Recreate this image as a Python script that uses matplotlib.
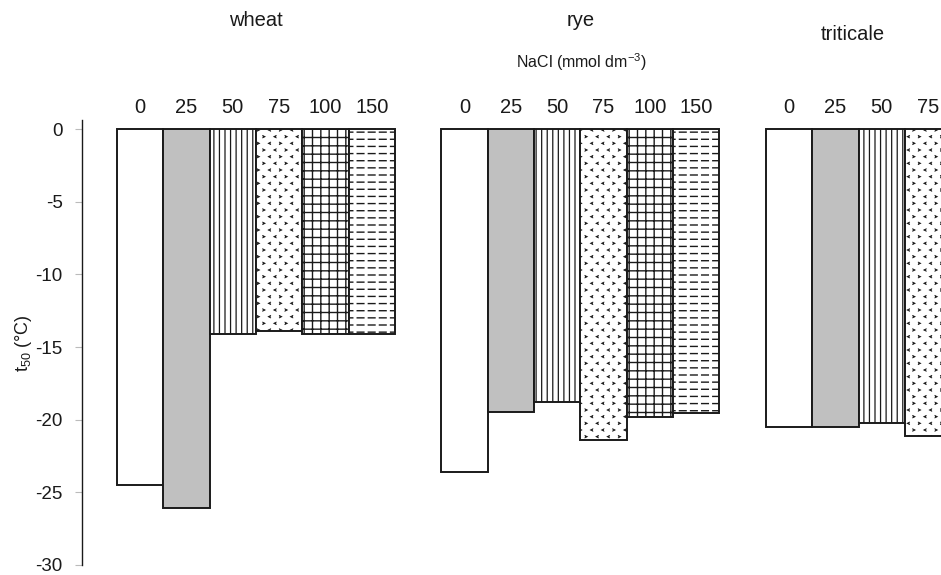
import matplotlib
matplotlib.use("Agg")
import warnings
import numpy as np
import matplotlib.pyplot as plt
from matplotlib import hatch as mhatch
from matplotlib.path import Path

warnings.filterwarnings('ignore')
plt.rcParams['font.family'] = ['Liberation Sans', 'DejaVu Sans']
plt.rcParams['axes.unicode_minus'] = False
plt.rcParams['hatch.linewidth'] = 0.9


# Custom hatch textures: dashed horizontal lines ('_') and small chevrons ('<')
class DashHatch(mhatch.HatchPatternBase):
    def __init__(self, hatch, density):
        n = hatch.count('_')
        self.rows = n * 14
        self.cols = n * 9
        self.num_vertices = self.rows * self.cols * 2

    def set_vertices_and_codes(self, vertices, codes):
        k = 0
        for r in range(self.rows):
            y = (r + 0.5) / self.rows
            for c in range(self.cols):
                x0 = (c + 0.15) / self.cols
                x1 = (c + 0.75) / self.cols
                vertices[k] = (x0, y)
                vertices[k + 1] = (x1, y)
                codes[k] = Path.MOVETO
                codes[k + 1] = Path.LINETO
                k += 2


class ChevronHatch(mhatch.HatchPatternBase):
    def __init__(self, hatch, density):
        n = hatch.count('<')
        self.rows = n * 15
        self.cols = n * 9
        self.num_vertices = self.rows * self.cols * 3

    def set_vertices_and_codes(self, vertices, codes):
        s = 0.012
        k = 0
        for r in range(self.rows):
            y = (r + 0.5) / self.rows
            for c in range(self.cols):
                x = (c + 0.25 + 0.5 * (r % 2)) / self.cols
                d = 1 if (c % 2 == 0) else -1
                vertices[k] = (x + d * s, y + s)
                vertices[k + 1] = (x - d * s, y)
                vertices[k + 2] = (x + d * s, y - s)
                codes[k] = Path.MOVETO
                codes[k + 1] = Path.LINETO
                codes[k + 2] = Path.LINETO
                k += 3


mhatch._hatch_types.append(DashHatch)
mhatch._hatch_types.append(ChevronHatch)

# Data
species = ['wheat', 'rye', 'triticale']
nacl = ['0', '25', '50', '75', '100', '150']
wheat = [-24.5, -26.05, -14.1, -13.9, -14.1, -14.1]
rye = [-23.6, -19.5, -18.8, -21.4, -19.85, -19.55]
triticale = [-20.5, -20.5, -20.2, -21.1]
yticks = [0, -5, -10, -15, -20, -25, -30]

fills = ['white', '#c0c0c0', 'white', 'white', 'white', 'white']
hatches = [None, None, '|||', '<', '++', '_']
hatch_lw = [0.9, 0.9, 0.9, 0.6, 1.0, 1.0]

W, H = 941, 575
fig = plt.figure(figsize=(W / 100, H / 100), dpi=100)
ax = fig.add_axes([82 / W, 0.0174, 1 - 82 / W, 0.7734])

groups = [wheat, rye, triticale]
starts = [0, 7, 14]
for g, (vals, s) in enumerate(zip(groups, starts)):
    for i, v in enumerate(vals):
        bars = ax.bar(s + i, v, width=1, align='edge', color=fills[i],
                      hatch=hatches[i], edgecolor='#1a1a1a', linewidth=1.4)
        for b in bars:
            if hasattr(b, 'set_hatch_linewidth'):
                b.set_hatch_linewidth(hatch_lw[i])
        ax.text(s + i + 0.5, 1.45, nacl[i], ha='center', va='center',
                fontsize=14.5, color='#1a1a1a')

ax.set_xlim(-0.755, 17.78)
ax.set_ylim(-30, 0.6)
ax.set_yticks(yticks)
ax.set_yticklabels([str(t) for t in yticks], fontsize=13.5, color='#1a1a1a')
ax.tick_params(axis='y', length=5, width=0.8, color='#bbbbbb', pad=9)
ax.set_xticks([])
for sp in ['top', 'right', 'bottom']:
    ax.spines[sp].set_visible(False)
ax.spines['left'].set_color('#1a1a1a')
ax.spines['left'].set_linewidth(1.0)

ax.set_ylabel(r'$\mathregular{t_{50}}$ (°C)', fontsize=13, color='#1a1a1a')
ax.yaxis.set_label_coords(-0.056, 0.5)

fig.text(256 / W, 1 - 20 / H, species[0], ha='center', va='center', fontsize=14.5, color='#1a1a1a')
fig.text(581 / W, 1 - 20 / H, species[1], ha='center', va='center', fontsize=14.5, color='#1a1a1a')
fig.text(853 / W, 1 - 34 / H, species[2], ha='center', va='center', fontsize=14.5, color='#1a1a1a')
fig.text(581 / W, 1 - 62 / H, r'NaCl (mmol dm$^{\mathregular{-3}}$)', ha='center', va='center',
         fontsize=11.5, color='#1a1a1a')

fig.savefig('out.png', dpi=100)
